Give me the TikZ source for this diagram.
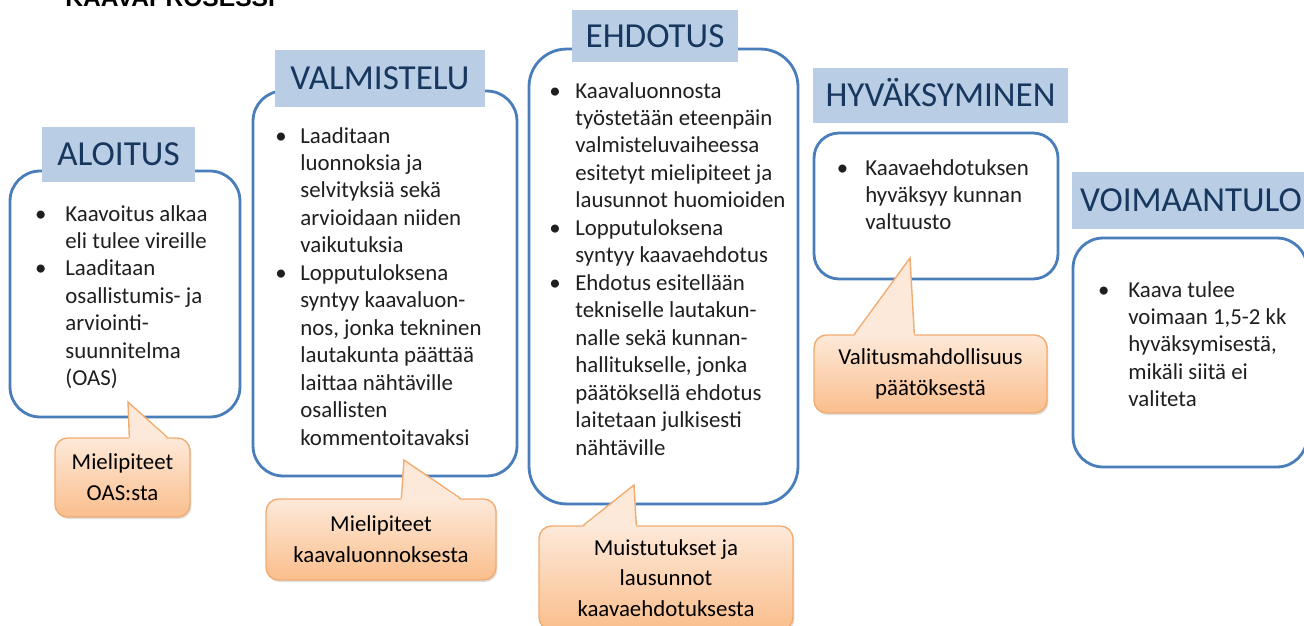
\documentclass[tikz,border=0pt]{standalone}
\usepackage{fontspec}
\setmainfont{Carlito}
\newfontfamily\headfont{Liberation Sans}
\usetikzlibrary{calc,shadows}
\definecolor{boxblue}{RGB}{74,126,187}
\definecolor{ttlfill}{RGB}{185,205,229}
\definecolor{ttltext}{RGB}{23,55,94}
\definecolor{cotop}{RGB}{253,233,217}
\definecolor{cobot}{RGB}{250,190,140}
\definecolor{coline}{RGB}{242,172,112}
\newcommand\bul[1]{\llap{\makebox[0pt][c]{\textbullet}\hspace{#1}}}

\begin{document}
\begin{tikzpicture}
	[x=0.02cm,y=-0.02cm,
	box/.style={draw=boxblue,line width=1.6pt,fill=white,rounded corners=0.6cm,inner sep=0},
	ttl/.style={fill=ttlfill,text=ttltext,font=\fontsize{20}{24}\selectfont,text height=13pt,text depth=0pt,inner sep=0},
	txt/.style={anchor=base west,inner sep=0,text=black!88,font=\fontsize{13}{15.65}\selectfont},
	callout/.style={draw=coline,line width=0.8pt,top color=cotop,bottom color=cobot,rounded corners=0.25cm,align=center,inner sep=0,font=\fontsize{13}{17.5}\selectfont,drop shadow={opacity=0.25,shadow xshift=0.8pt,shadow yshift=-1.2pt}},
	ptr/.style={draw=coline,line width=0.8pt}]
	\useasboundingbox (0,0) rectangle (1304,625);
	
	\node[anchor=base west,inner sep=0,font=\headfont\bfseries\fontsize{14}{16}\selectfont] (hd) at (65,7) {KAAVAPROSESSI};
	
	\node[box,minimum width=4.6cm,minimum height=4.92cm] (b1) at (125,294) {};
	\node[box,minimum width=5.28cm,minimum height=7.7cm] (b2) at (385,283.5) {};
	\node[box,minimum width=5.38cm,minimum height=9.1cm,rounded corners=0.75cm] (b3) at (663.5,276.5) {};
	\node[box,minimum width=4.88cm,minimum height=2.92cm,rounded corners=0.5cm] (b4) at (936,206) {};
	\node[box,minimum width=4.68cm,minimum height=4.58cm] (b5) at (1190,352.5) {};
	
	\node[ttl,minimum width=3.06cm,minimum height=1.1cm] (t1) at (118.5,154.5) {ALOITUS};
	\node[ttl,minimum width=4.2cm,minimum height=1.14cm] (t2) at (380,78.5) {VALMISTELU};
	\node[ttl,minimum width=3.32cm,minimum height=1.04cm] (t3) at (655,36) {EHDOTUS};
	\node[ttl,minimum width=5.1cm,minimum height=1.1cm] (t4) at (940.5,95.5) {HYVÄKSYMINEN};
	\node[ttl,minimum width=4.76cm,minimum height=1.14cm] (t5) at (1191,200.5) {VOIMAANTULO};
	
	\node[txt] (x1) at (65,221) {\begin{tabular}[t]{@{}l@{}}
		\bul{14pt}Kaavoitus alkaa\\ eli tulee vireille\\
		\bul{14pt}Laaditaan\\ osallistumis- ja\\ arviointi-\\ suunnitelma\\ (OAS)
		\end{tabular}};
	\node[txt] (x2) at (300,143) {\begin{tabular}[t]{@{}l@{}}
		\bul{11pt}Laaditaan\\ luonnoksia ja\\ selvityksiä sekä\\ arvioidaan niiden\\ vaikutuksia\\
		\bul{11pt}Lopputuloksena\\ syntyy kaavaluon-\\ nos, jonka tekninen\\ lautakunta päättää\\ laittaa nähtäville\\ osallisten\\ kommentoitavaksi
		\end{tabular}};
	\node[txt] (x3) at (575,98) {\begin{tabular}[t]{@{}l@{}}
		\bul{11.5pt}Kaavaluonnosta\\ työstetään eteenpäin\\ valmisteluvaiheessa\\ esitetyt mielipiteet ja\\ lausunnot huomioiden\\
		\bul{11.5pt}Lopputuloksena\\ syntyy kaavaehdotus\\
		\bul{11.5pt}Ehdotus esitellään\\ tekniselle lautakun-\\ nalle sekä kunnan-\\ hallitukselle, jonka\\ päätöksellä ehdotus\\ laitetaan julkisesti\\ nähtäville
		\end{tabular}};
	\node[txt] (x4) at (865,175) {\begin{tabular}[t]{@{}l@{}}
		\bul{13pt}Kaavaehdotuksen\\ hyväksyy kunnan\\ valtuusto
		\end{tabular}};
	\node[txt] (x5) at (1128,297) {\begin{tabular}[t]{@{}l@{}}
		\bul{14pt}Kaava tulee\\ voimaan 1,5-2 kk\\ hyväksymisestä,\\ mikäli siitä ei\\ valiteta
		\end{tabular}};
	
	\node[callout,minimum width=2.7cm,minimum height=1.58cm] (c1) at (122.5,477.5) {Mielipiteet\\OAS:sta};
	\node[callout,minimum width=4.6cm,minimum height=1.62cm] (c2) at (381,539.5) {Mielipiteet\\kaavaluonnoksesta};
	\node[callout,minimum width=5.08cm,minimum height=2.08cm] (c3) at (666,578) {Muistutukset ja\\lausunnot\\kaavaehdotuksesta};
	\node[callout,minimum width=4.66cm,minimum height=1.56cm] (c4) at (930.5,374) {Valitusmahdollisuus\\päätöksestä};
	
	\coordinate (p1) at (128,402);
	\coordinate (p2) at (404,460);
	\coordinate (p3) at (634,485);
	\coordinate (p4) at (910,258);
	
	\fill[cotop] ($(c1.north west)+(75,2)$) -- (p1) -- ($(c1.north west)+(113,2)$) -- cycle;
	\draw[ptr] ($(c1.north west)+(75,0)$) -- (p1) -- ($(c1.north west)+(113,0)$);
	\fill[cotop] ($(c2.north west)+(136,2)$) -- (p2) -- ($(c2.north west)+(195,2)$) -- cycle;
	\draw[ptr] ($(c2.north west)+(136,0)$) -- (p2) -- ($(c2.north west)+(195,0)$);
	\fill[cotop] ($(c3.north west)+(45,2)$) -- (p3) -- ($(c3.north west)+(98,2)$) -- cycle;
	\draw[ptr] ($(c3.north west)+(45,0)$) -- (p3) -- ($(c3.north west)+(98,0)$);
	\fill[cotop] ($(c4.north west)+(41,2)$) -- (p4) -- ($(c4.north west)+(101,2)$) -- cycle;
	\draw[ptr] ($(c4.north west)+(41,0)$) -- (p4) -- ($(c4.north west)+(101,0)$);
\end{tikzpicture}
\end{document}
